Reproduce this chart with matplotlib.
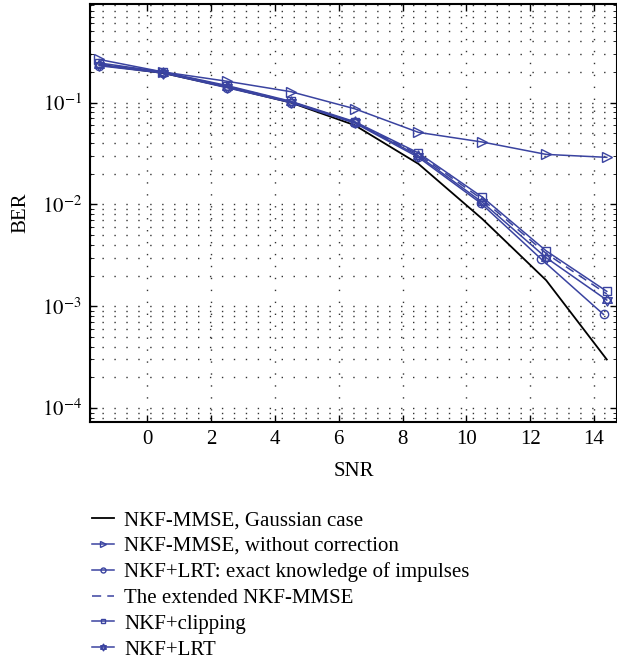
import numpy as np
import matplotlib.pyplot as plt
from matplotlib.path import Path
from matplotlib.ticker import LogLocator, NullFormatter

plt.rcParams['font.family'] = ['Liberation Serif', 'DejaVu Serif']
plt.rcParams['mathtext.fontset'] = 'stix'

# SNR points and BER curves
snr = [-1.5, 0.5, 2.5, 4.5, 6.5, 8.5, 10.5, 12.5, 14.4]
snr_circ = [-1.5, 0.5, 2.5, 4.5, 6.5, 8.5, 10.45, 12.35, 14.3]
ber_gauss = [0.235, 0.195, 0.142, 0.100, 0.060, 0.025, 0.0072, 0.0018, 0.00030]
ber_nocorr = [0.265, 0.200, 0.162, 0.128, 0.087, 0.051, 0.041, 0.031, 0.029]
ber_exact = [0.230, 0.195, 0.140, 0.100, 0.063, 0.029, 0.0103, 0.0029, 0.00083]
ber_ext = [0.240, 0.198, 0.145, 0.102, 0.064, 0.031, 0.0112, 0.0033, 0.00132]
ber_clip = [0.245, 0.200, 0.147, 0.103, 0.065, 0.032, 0.0118, 0.0035, 0.00140]
ber_lrt = [0.235, 0.197, 0.143, 0.101, 0.064, 0.030, 0.0105, 0.0030, 0.00115]

blue = '#3a43a0'

# hexagram marker (two overlapping triangles), like MATLAB's 'h'
ang_up = np.deg2rad([90, 210, 330])
ang_dn = np.deg2rad([270, 30, 150])
tri_up = np.column_stack([np.cos(ang_up), np.sin(ang_up)])
tri_dn = np.column_stack([np.cos(ang_dn), np.sin(ang_dn)])
verts = np.vstack([tri_up, tri_up[:1], tri_dn, tri_dn[:1]])
codes = [Path.MOVETO, Path.LINETO, Path.LINETO, Path.CLOSEPOLY] * 2
hexagram = Path(verts, codes)

fig = plt.figure(figsize=(6.17, 6.63), dpi=100)
ax = fig.add_axes([0.146, 0.3635, 0.854, 0.6305])

ax.semilogy(snr, ber_gauss, color='black', lw=1.3, label='NKF-MMSE, Gaussian case')
ax.semilogy(snr, ber_nocorr, color=blue, lw=1.1, marker='>', ms=7, mfc='none',
            label='NKF-MMSE, without correction')
ax.semilogy(snr_circ, ber_exact, color=blue, lw=1.1, marker='o', ms=6, mfc='none',
            label='NKF+LRT: exact knowledge of impulses')
ax.semilogy(snr, ber_ext, color=blue, lw=1.1, ls=(0, (6, 4)),
            label='The extended NKF-MMSE')
ax.semilogy(snr, ber_clip, color=blue, lw=1.1, marker='s', ms=6, mfc='none',
            label='NKF+clipping')
ax.semilogy(snr, ber_lrt, color=blue, lw=1.1, marker=hexagram, ms=8, mfc='none',
            label='NKF+LRT')

ax.set_xlim(-1.79, 14.72)
ax.set_ylim(7.3e-5, 0.93)
ax.set_xticks(range(0, 15, 2))
ax.yaxis.set_minor_locator(LogLocator(base=10, subs=np.arange(2, 10), numticks=20))
ax.yaxis.set_minor_formatter(NullFormatter())
ax.set_yticks([1e-4, 1e-3, 1e-2, 1e-1])
ax.set_yticklabels(['$10^{-4}$', '$10^{-3}$', '$10^{-2}$', '$10^{-1}$'])

dots = (0, (1, 7.6))
ax.grid(True, which='major', axis='both', color='#333333', lw=1.0, ls=dots)
ax.grid(True, which='minor', axis='y', color='#333333', lw=1.0, ls=dots)
ax.tick_params(which='both', direction='in', top=True, right=True, labelsize=15)
ax.tick_params(which='major', length=5, width=1, pad=6)
ax.tick_params(which='minor', length=3)
for s in ax.spines.values():
    s.set_linewidth(1.5)

ax.set_xlabel('SNR', fontsize=15, labelpad=9)
ax.set_ylabel('BER', fontsize=15, labelpad=8)

fig.legend(loc='upper left', bbox_to_anchor=(0.135, 0.2426), frameon=False,
           fontsize=15, handlelength=1.05, handletextpad=0.5, labelspacing=0.3,
           markerscale=0.6, borderaxespad=0)

plt.savefig('out.png', dpi=100)
